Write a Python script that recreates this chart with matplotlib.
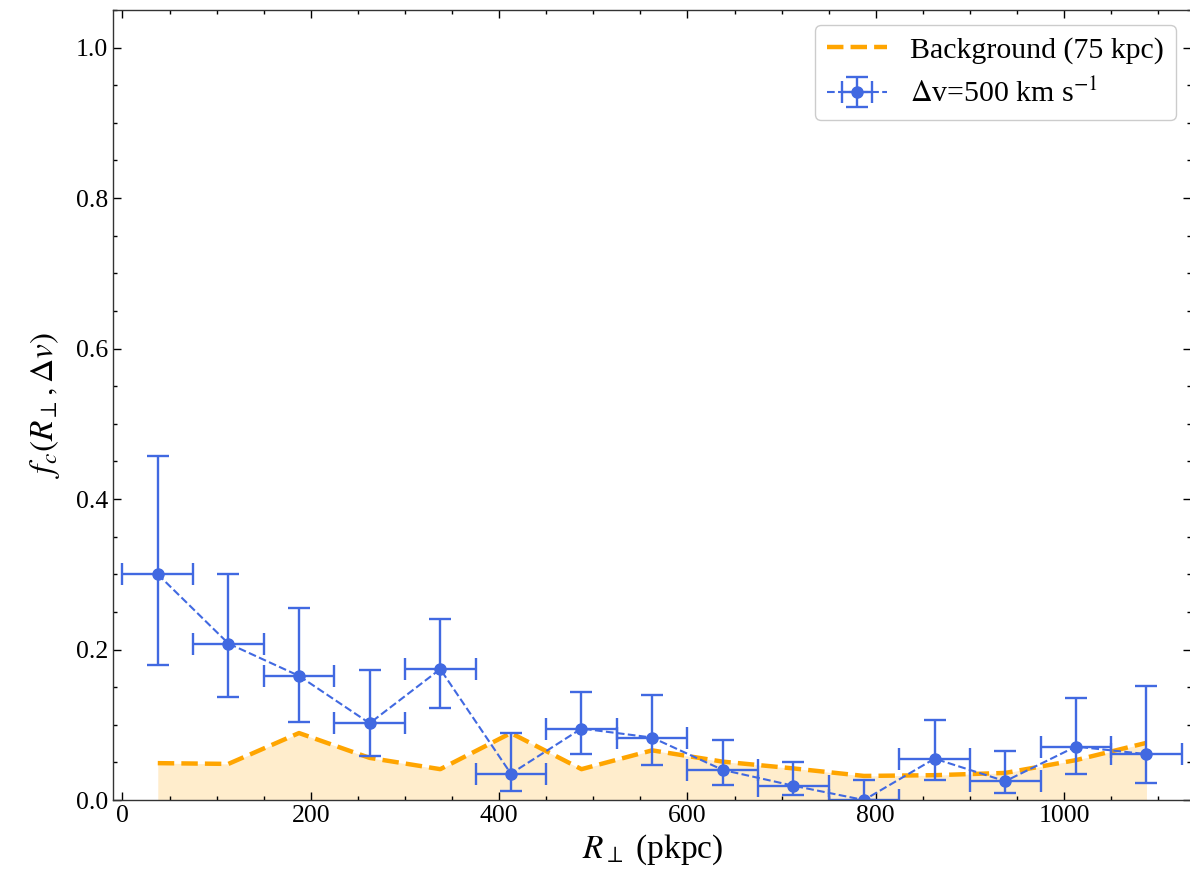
import matplotlib
matplotlib.use("Agg")
import matplotlib.pyplot as plt
from matplotlib.ticker import MultipleLocator

plt.rcParams['font.family'] = ['Liberation Serif', 'DejaVu Serif']
plt.rcParams['mathtext.fontset'] = 'stix'

# Data
r_bins = [37.5, 112.5, 187.5, 262.5, 337.5, 412.5, 487.5, 562.5, 637.5,
          712.5, 787.5, 862.5, 937.5, 1012.5, 1087.5]
bin_halfwidth = [37.5] * 15
fc = [0.300, 0.208, 0.165, 0.102, 0.174, 0.035, 0.095, 0.083, 0.040,
      0.019, 0.000, 0.055, 0.025, 0.071, 0.061]
fc_upper = [0.457, 0.301, 0.255, 0.173, 0.241, 0.089, 0.144, 0.140, 0.080,
            0.050, 0.027, 0.106, 0.065, 0.135, 0.151]
fc_lower = [0.179, 0.137, 0.104, 0.058, 0.122, 0.012, 0.061, 0.047, 0.020,
            0.007, 0.000, 0.027, 0.009, 0.035, 0.023]
background = [0.049, 0.048, 0.089, 0.056, 0.041, 0.089, 0.041, 0.066, 0.051,
              0.042, 0.032, 0.033, 0.036, 0.053, 0.076]

yerr_lo = [v - l for v, l in zip(fc, fc_lower)]
yerr_hi = [u - v for v, u in zip(fc, fc_upper)]

fig = plt.figure(figsize=(11.9, 8.71), dpi=100)
ax = fig.add_axes([0.095, 0.0815, 0.906, 0.907])

ax.fill_between(r_bins, 0, background, color='orange', alpha=0.2, linewidth=0)
ax.plot(r_bins, background, color='orange', ls='--', lw=3.2,
        label='Background (75 kpc)')
ax.errorbar(r_bins, fc, yerr=[yerr_lo, yerr_hi], xerr=bin_halfwidth,
            color='royalblue', ls='--', lw=1.5, elinewidth=1.7,
            marker='o', ms=8, capsize=8, capthick=1.7,
            label=r'$\Delta$v=500 km s$^{-1}$')

ax.set_xlim(-10, 1135)
ax.set_ylim(0, 1.05)
ax.xaxis.set_major_locator(MultipleLocator(200))
ax.xaxis.set_minor_locator(MultipleLocator(50))
ax.yaxis.set_major_locator(MultipleLocator(0.2))
ax.yaxis.set_minor_locator(MultipleLocator(0.05))
ax.tick_params(which='both', direction='in', top=True, right=True,
               labelsize=18.5, width=1.0)
ax.tick_params(which='major', length=6)
ax.tick_params(which='minor', length=3)
for s in ax.spines.values():
    s.set_linewidth(1.0)
    s.set_color('#333333')

ax.set_xlabel(r'$R_\perp$ (pkpc)', fontsize=24, labelpad=4)
ax.set_ylabel(r'$f_c(R_\perp, \Delta v)$', fontsize=24, labelpad=10)

leg = ax.legend(loc='upper right', fontsize=21.5, frameon=True, fancybox=True,
                edgecolor='#cccccc', framealpha=1.0, handlelength=2.0)

fig.savefig('out.png', dpi=100)
